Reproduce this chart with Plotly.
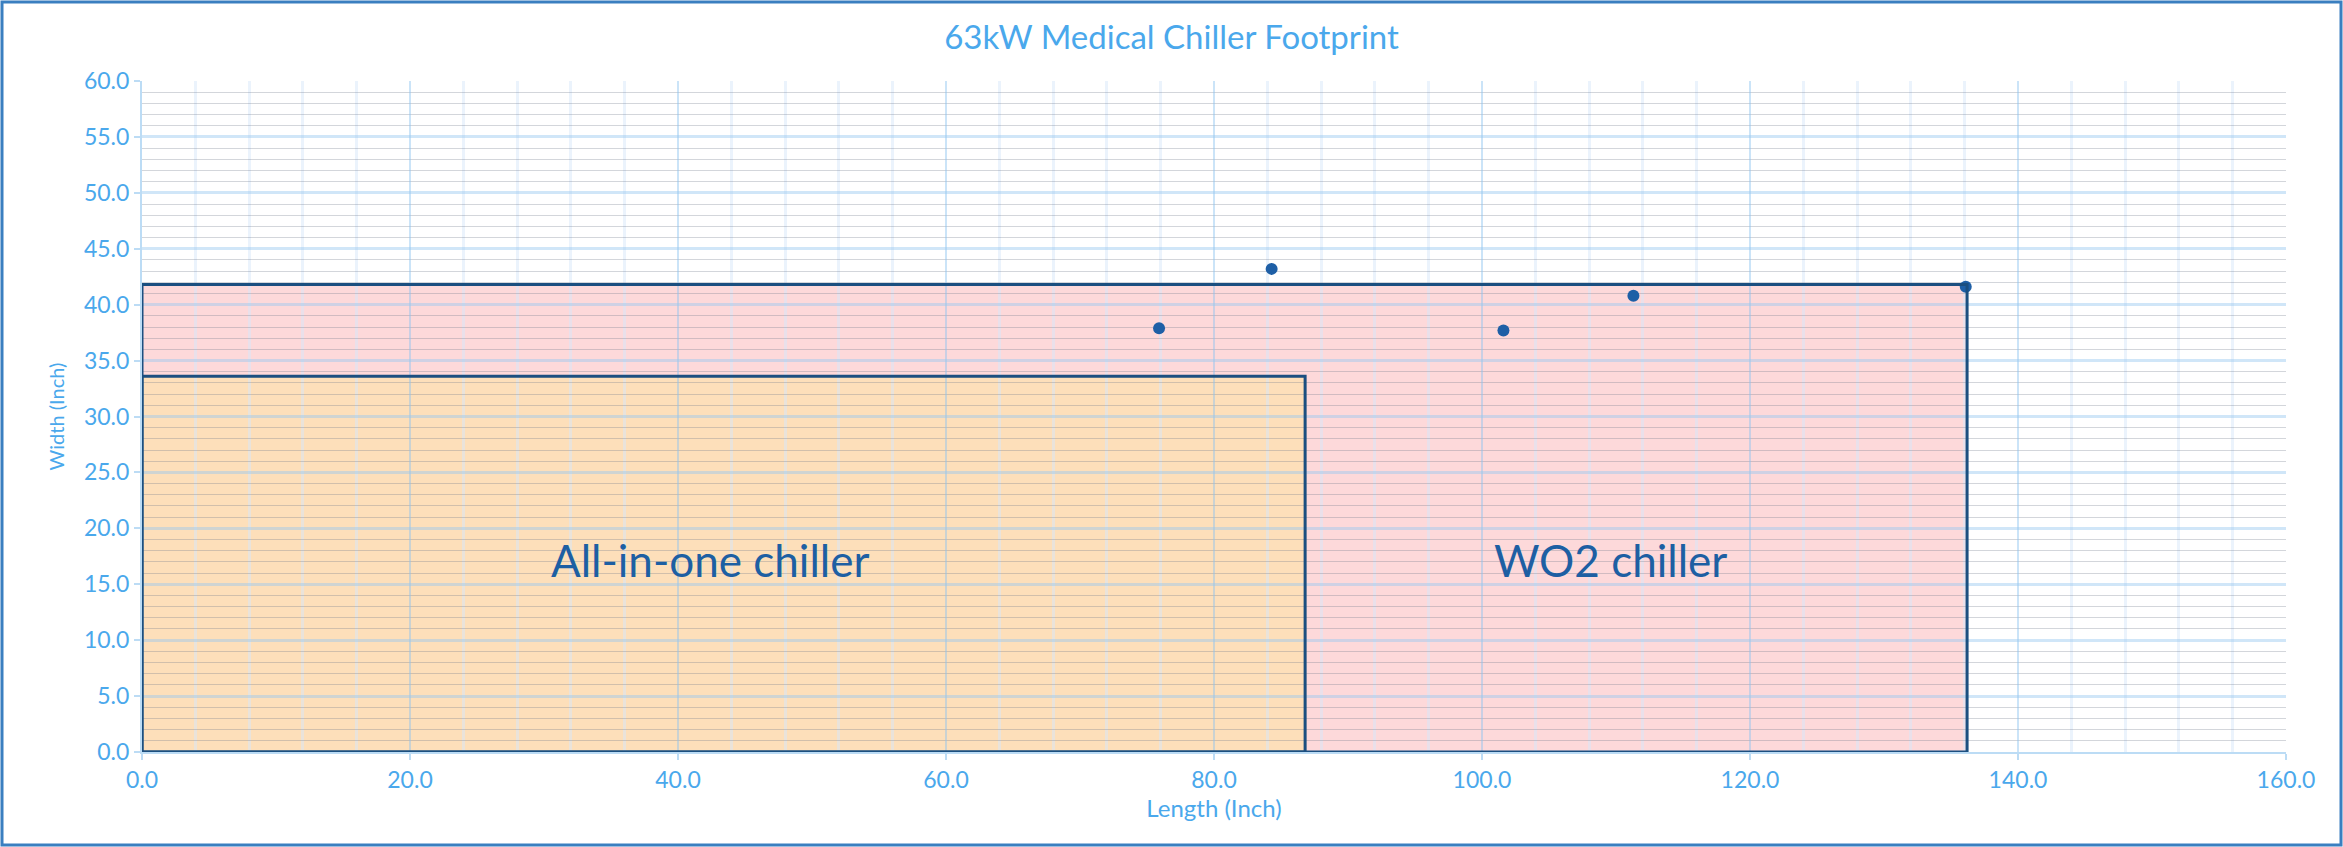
import plotly.graph_objects as go

# ---- data ----
rect_names = ["WO2 chiller", "All-in-one chiller"]
rect_length = [136.2, 86.8]
rect_width = [41.8, 33.6]
rect_fill = ["rgb(253,217,218)", "rgb(253,223,186)"]
label_x = [109.6, 42.4]
label_y = [17.2, 17.2]

pt_length = [75.9, 84.3, 101.6, 111.3, 136.1]
pt_width = [37.9, 43.2, 37.7, 40.8, 41.6]

title_text = "63kW Medical Chiller Footprint"
x_title = "Length (Inch)"
y_title = "Width (Inch)"

blue_txt = "#4aa8ec"
navy = "#1b4f80"

W_PX, H_PX = 2343, 847
M_L, M_R, M_T, M_B = 142, 57, 81, 95
plot_w = W_PX - M_L - M_R
plot_h = H_PX - M_T - M_B

fig = go.Figure()

shapes = []
for L, W, c in zip(rect_length, rect_width, rect_fill):
    shapes.append(dict(type="rect", xref="x", yref="y", x0=0, y0=0, x1=L, y1=W,
                       fillcolor=c, line=dict(width=0), layer="below"))
for L, W in zip(rect_length, rect_width):
    shapes.append(dict(type="rect", xref="x", yref="y", x0=0, y0=0, x1=L, y1=W,
                       fillcolor="rgba(0,0,0,0)", line=dict(color=navy, width=3), layer="above"))
# figure border (2 px inside the page edge)
shapes.append(dict(type="rect", xref="paper", yref="paper",
                   x0=-(M_L - 2) / plot_w, x1=1 + (M_R - 2) / plot_w,
                   y0=-(M_B - 2) / plot_h, y1=1 + (M_T - 2) / plot_h,
                   line=dict(color="#3a7fc0", width=3), fillcolor="rgba(0,0,0,0)", layer="below"))

fig.add_trace(go.Scatter(x=pt_length, y=pt_width, mode="markers",
                         marker=dict(color="#1e5fa6", size=12), showlegend=False,
                         cliponaxis=False))

for name, x, y in zip(rect_names, label_x, label_y):
    fig.add_annotation(x=x, y=y, text=name, showarrow=False,
                       font=dict(family="Lato, Open Sans, sans-serif", size=44, color="#1d5fa3"))

fig.update_layout(
    width=W_PX, height=H_PX,
    margin=dict(l=M_L, r=M_R, t=M_T, b=M_B),
    paper_bgcolor="white", plot_bgcolor="white",
    shapes=shapes,
    title=dict(text=title_text, x=0.5, xanchor="center", y=1 - 37 / H_PX, yanchor="middle",
               font=dict(family="Lato, Open Sans, sans-serif", size=33, color=blue_txt)),
    font=dict(family="Lato, Open Sans, sans-serif", color=blue_txt),
)

fig.update_xaxes(
    range=[0, 160], dtick=20, tickformat=".1f", showgrid=True,
    gridcolor="rgba(140,195,240,0.45)", gridwidth=2,
    minor=dict(dtick=4, showgrid=True, gridcolor="rgba(215,232,250,0.5)", gridwidth=3),
    showline=True, linecolor="#bcdcf5", linewidth=2, mirror=False,
    ticks="outside", tickcolor="#bcdcf5", ticklen=6, tickwidth=2,
    tickfont=dict(size=23, color=blue_txt), zeroline=False,
    title=dict(text=x_title, font=dict(size=24, color=blue_txt), standoff=8),
)
fig.update_yaxes(
    range=[0, 60], dtick=5, tickformat=".1f", showgrid=True,
    gridcolor="rgba(150,200,240,0.45)", gridwidth=3,
    minor=dict(dtick=1, showgrid=True, gridcolor="rgba(110,120,135,0.30)", gridwidth=1),
    showline=True, linecolor="#bcdcf5", linewidth=2,
    ticks="outside", tickcolor="#bcdcf5", ticklen=6, tickwidth=2,
    tickfont=dict(size=23, color=blue_txt), zeroline=False,
    title=dict(text=y_title, font=dict(size=20, color=blue_txt), standoff=14),
)

fig.write_html("out.html", config={"displayModeBar": False},
               post_script="document.body.style.margin='0';")
